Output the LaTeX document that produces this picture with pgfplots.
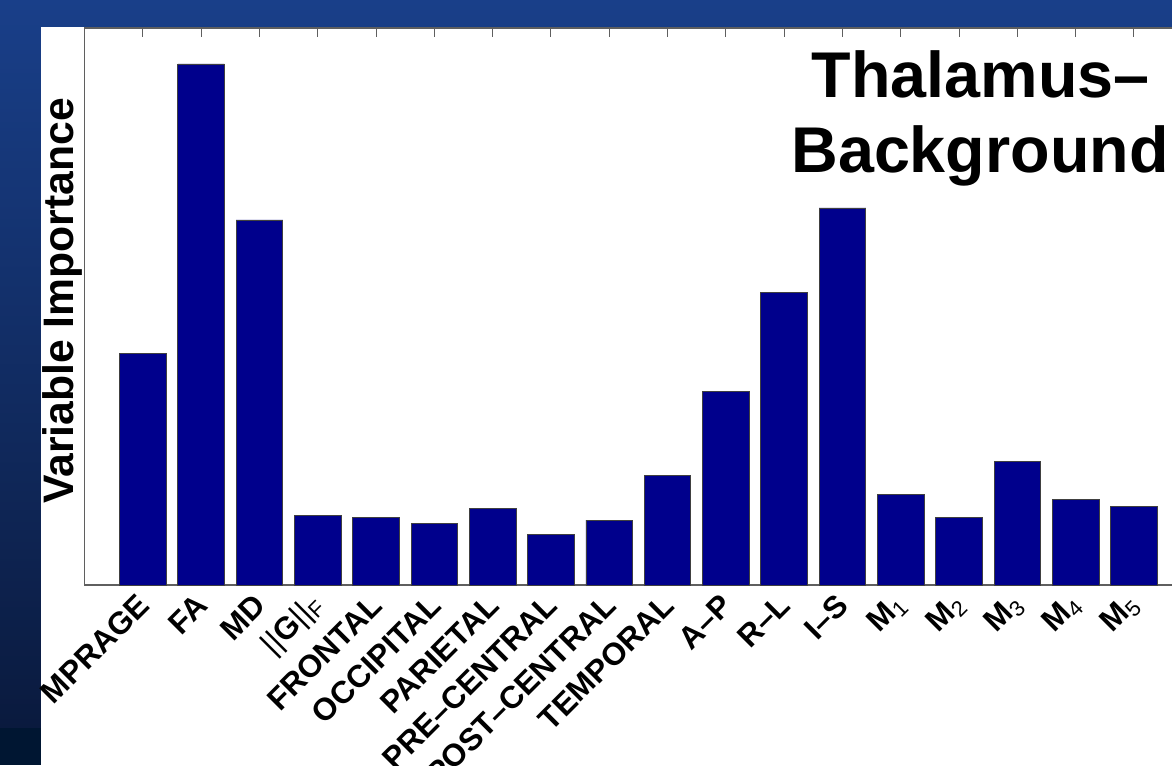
\documentclass[border=0pt]{standalone}
\usepackage{pgfplots}
\pgfplotsset{compat=1.18}
\usepackage{pgfplotstable}
\usepackage{fontspec}
\setmainfont{Liberation Sans}
\definecolor{bgtop}{RGB}{25,63,137}
\definecolor{bgbot}{RGB}{10,26,62}
\definecolor{bgband}{RGB}{0,22,50}
\definecolor{barblue}{RGB}{0,0,140}
\definecolor{axisgray}{RGB}{95,95,95}
\newcommand{\sub}[1]{\textsubscript{\mdseries #1}}
\pgfplotstableread{
x v
1 232
2 521
3 365
4 70
5 68
6 62
7 77
8 51
9 65
10 110
11 194
12 293
13 377
14 91
15 68
16 124
17 86
18 79
}\importance
\begin{document}
\begin{tikzpicture}
\shade[top color=bgtop, bottom color=bgbot] (0pt,27.75pt) rectangle (879pt,573.75pt);
\fill[bgband] (0pt,0pt) rectangle (879pt,27.75pt);
\fill[white] (30.75pt,0pt) rectangle (879pt,553.5pt);
\begin{axis}[
  at={(63.4pt,135pt)}, anchor=south west,
  scale only axis, width=830.8pt, height=417.75pt,
  xmin=0, xmax=19, ymin=0, ymax=557,
  ybar, bar width=0.8,
  ytick=\empty,
  xtick={1,...,18},
  xticklabels={MPRAGE,FA,MD,{{\mdseries||}G{\mdseries||}\sub{F}},FRONTAL,OCCIPITAL,PARIETAL,PRE–CENTRAL,POST–CENTRAL,TEMPORAL,A–P,R–L,I–S,M\sub{1},M\sub{2},M\sub{3},M\sub{4},M\sub{5}},
  xtick pos=both, tick align=inside, major tick length=7pt,
  axis line style={axisgray, line width=0.9pt},
  tick style={axisgray, line width=0.75pt},
  xticklabel shift=9pt,
  xticklabel style={xshift=3pt, rotate=45, anchor=east, font=\bfseries\fontsize{23.5}{24}\selectfont},
  ylabel={Variable Importance},
  ylabel style={at={(axis description cs:-0.0100,0.51)}, anchor=base, font=\bfseries\fontsize{32}{32}\selectfont},
]
\addplot[fill=barblue, draw=black!75, line width=0.6pt] table[x=x,y=v]{\importance};
\end{axis}
\node[anchor=base, inner sep=0pt, font=\bfseries\fontsize{48.5}{50}\selectfont] at (735.5pt,500.25pt) {Thalamus–};
\node[anchor=base, inner sep=0pt, font=\bfseries\fontsize{48.5}{50}\selectfont] at (735pt,444pt) {Background};
\pgfresetboundingbox
\useasboundingbox (0pt,0pt) rectangle (879pt,573.75pt);
\end{tikzpicture}
\end{document}
